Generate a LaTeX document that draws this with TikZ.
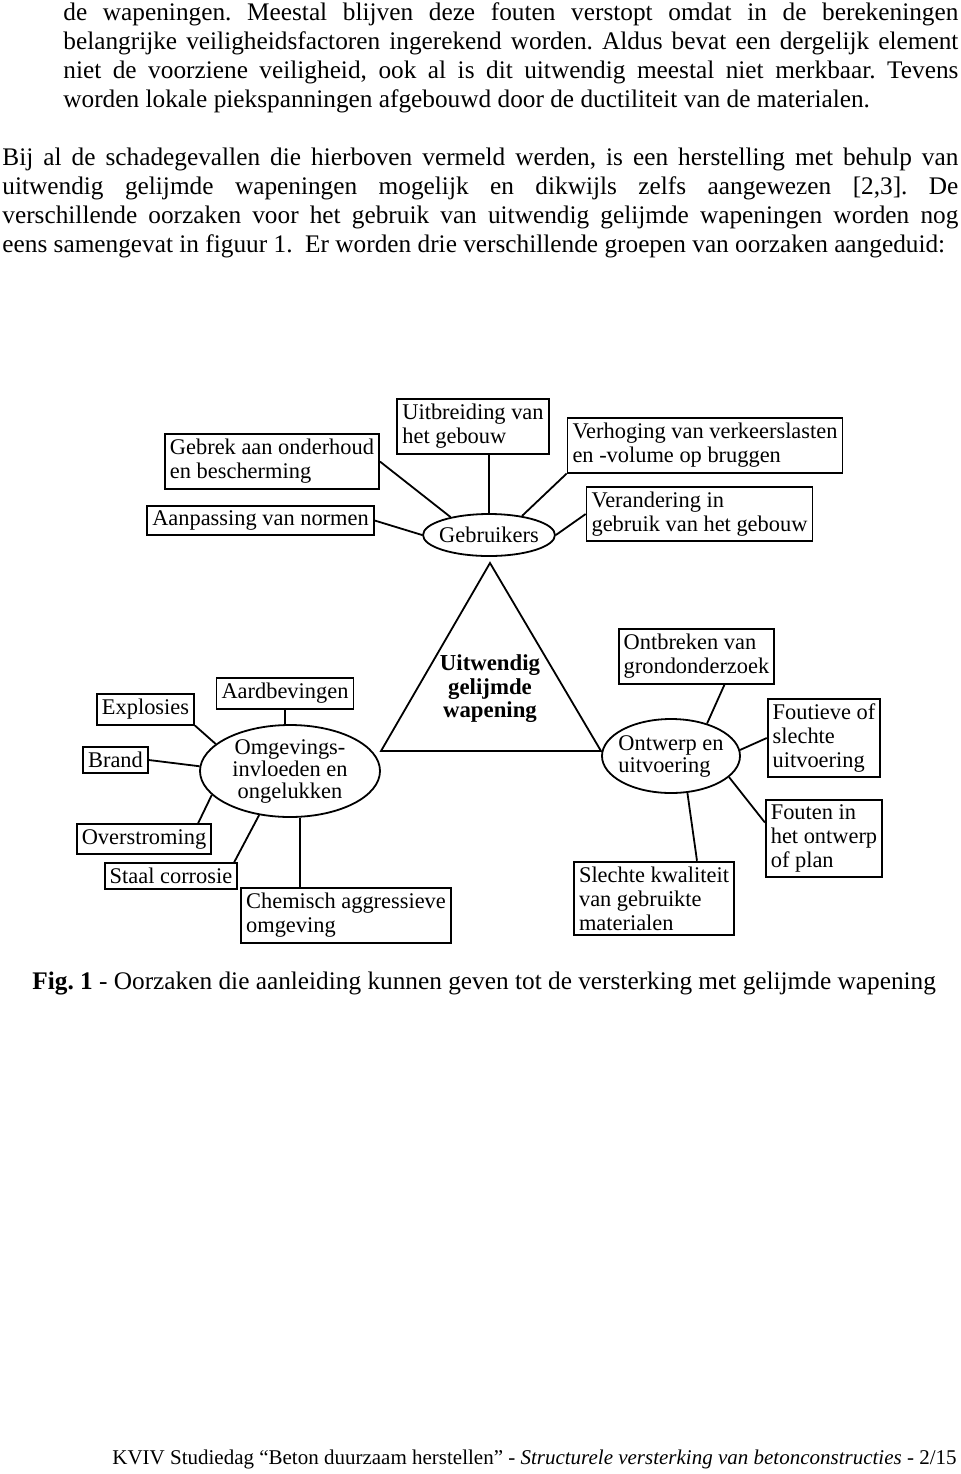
\documentclass[tikz,border=0pt]{standalone}
\usepackage{fontspec}
\setmainfont{Liberation Serif}
\usetikzlibrary{shapes.geometric}
\frenchspacing

\begin{document}
\begin{tikzpicture}[x=0.5pt, y=-0.5pt, every node/.append style={text=black},
	box/.style={draw, line width=0.9pt, align=left, inner xsep=2.5pt, inner ysep=2.5pt, font=\fontsize{11.2}{12}\selectfont},
	oval/.style={draw, ellipse, line width=0.9pt, inner xsep=-3pt, inner ysep=0pt, font=\fontsize{11.2}{11}\selectfont},
	link/.style={line width=0.9pt},
	body/.style={anchor=base west, inner sep=0pt, font=\fontsize{12.65}{14.5}\selectfont}]
	\fill[white] (0,0) rectangle (960,1474);
	\useasboundingbox (0,0) rectangle (960,1474);

	% lopende tekst
	\foreach \t [count=\i] in {{de wapeningen. Meestal blijven deze fouten verstopt omdat in de berekeningen},
		{belangrijke veiligheidsfactoren ingerekend worden. Aldus bevat een dergelijk element},
		{niet de voorziene veiligheid, ook al is dit uitwendig meestal niet merkbaar. Tevens}}
	{
		\node[body] (pa\i) at (63, {-9+29*\i}) {\makebox[447.5pt][s]{\t}};
	}
	\node[body] (pa4) at (63, 107) {worden lokale piekspanningen afgebouwd door de ductiliteit van de materialen.};
	\foreach \t [count=\i] in {{Bij al de schadegevallen die hierboven vermeld werden, is een herstelling met behulp van},
		{uitwendig gelijmde wapeningen mogelijk en dikwijls zelfs aangewezen [2,3]. De},
		{verschillende oorzaken voor het gebruik van uitwendig gelijmde wapeningen worden nog}}
	{
		\node[body] (pb\i) at (2, {136+29*\i}) {\makebox[478pt][s]{\t}};
	}
	\node[body] (pb4) at (2, 252) {eens samengevat in figuur 1.\ \ Er worden drie verschillende groepen van oorzaken aangeduid:};

	% gebruikers
	\node[oval, minimum width=66pt, minimum height=21pt] (gebruikers) at (489,535) {Gebruikers};
	\node[box] (gebrek) at (272,461.5) {Gebrek aan onderhoud\\en bescherming};
	\node[box] (aanpassing) at (260.5,520.5) {Aanpassing van normen};
	\node[box] (uitbreiding) at (473,426.5) {Uitbreiding van\\het gebouw};
	\node[box] (verhoging) at (705,445.5) {Verhoging van verkeerslasten\\en -volume op bruggen};
	\node[box] (verandering) at (699.5,514) {Verandering in\\gebruik van het gebouw};

	% driehoek
	\coordinate (top) at (490,563);
	\coordinate (links) at (381,751);
	\coordinate (rechts) at (601,751);
	\draw[link] (top) -- (links) -- (rechts) -- cycle;
	\node[align=center, font=\fontsize{11.4}{11.75}\selectfont\bfseries] (kern) at (490,689) {Uitwendig\\gelijmde\\wapening};

	% omgevingsinvloeden
	\node[oval, align=center, minimum width=90pt, minimum height=46pt] (omgeving) at (290,771) {Omgevings-\\invloeden en\\ongelukken};
	\node[box] (explosies) at (145.5,709.5) {Explosies};
	\node[box] (aardbevingen) at (285,693.5) {Aardbevingen};
	\node[box] (brand) at (115.5,760) {Brand};
	\node[box] (overstroming) at (144,839) {Overstroming};
	\node[box] (staal) at (171,876) {Staal corrosie};
	\node[box] (chemisch) at (346,915.5) {Chemisch aggressieve\\omgeving};

	% ontwerp
	\node[oval, align=left, minimum width=69pt, minimum height=37pt] (ontwerp) at (671,756) {Ontwerp en\\uitvoering};
	\node[box] (ontbreken) at (696.5,656.5) {Ontbreken van\\grondonderzoek};
	\node[box] (foutieve) at (824,738) {Foutieve of\\slechte\\uitvoering};
	\node[box] (fouten) at (824,838.5) {Fouten in\\het ontwerp\\of plan};
	\node[box] (slechte) at (654,898.5) {Slechte kwaliteit\\van gebruikte\\materialen};

	\foreach \a/\b in {gebrek.east/gebruikers.155, aanpassing.east/gebruikers.west, verhoging.south west/gebruikers.30,
		verandering.west/gebruikers.east, explosies.south east/omgeving.160, brand.east/omgeving.177, foutieve.west/ontwerp.5}
	{
		\draw[link] (\a) -- (\b);
	}
	\draw[link] (gebruikers.north) -- (gebruikers.north |- uitbreiding.south);
	\draw[link] (aardbevingen.south) -- (aardbevingen.south |- omgeving.north);
	\draw[link] ([xshift=-7pt]overstroming.north east) -- (omgeving.197);
	\draw[link] ([xshift=-2pt]staal.north east) -- (omgeving.235);
	\draw[link] ([xshift=5pt]omgeving.south) -- ([xshift=5pt]omgeving.south |- chemisch.north);
	\draw[link] ([xshift=14pt]ontbreken.south) -- (ontwerp.42);
	\draw[link] ([yshift=8pt]fouten.west) -- (ontwerp.-20);
	\draw[link] ([xshift=21.5pt]slechte.north) -- (ontwerp.-66);

	% onderschrift en voettekst
	\node[body] (caption) at (32,989) {\textbf{Fig. 1} - Oorzaken die aanleiding kunnen geven tot de versterking met gelijmde wapening};
	\node[body, anchor=base east, font=\fontsize{10.5}{12}\selectfont] (voet) at (957,1464) {KVIV Studiedag “Beton duurzaam herstellen” - \textit{Structurele versterking van betonconstructies} - 2/15};
\end{tikzpicture}
\end{document}
